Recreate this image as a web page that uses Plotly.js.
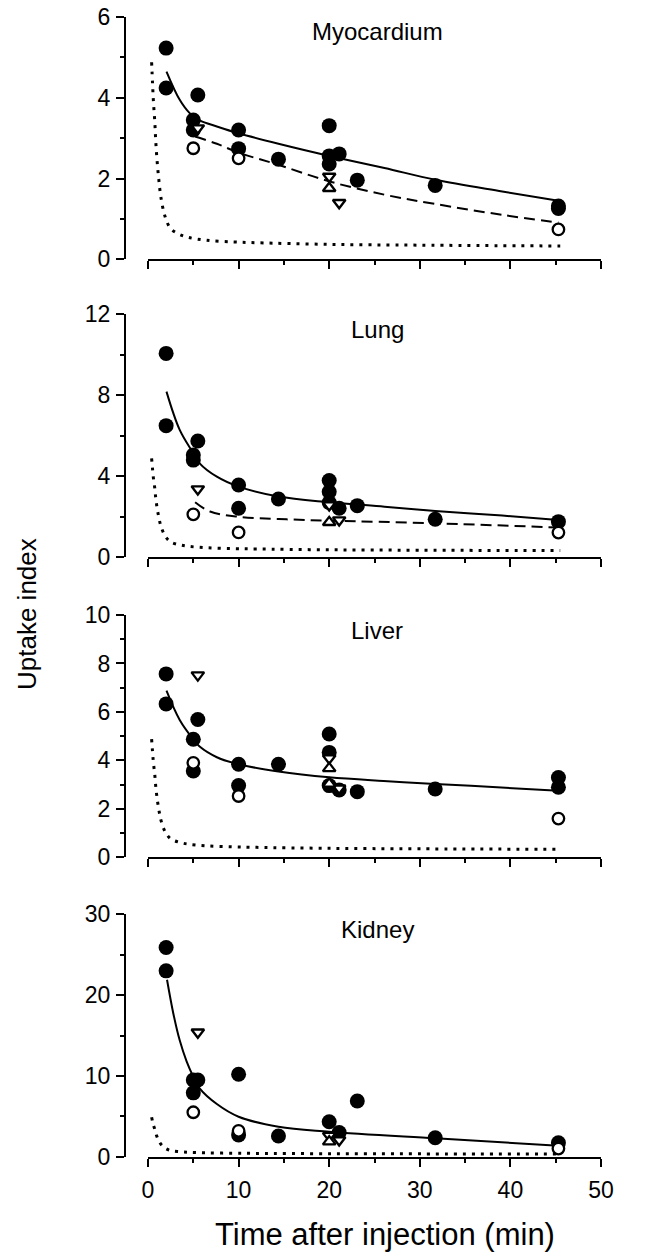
<!DOCTYPE html>
<html>
<head>
<meta charset="utf-8">
<script src="https://cdn.plot.ly/plotly-3.0.1.min.js"></script>
<style>html,body{margin:0;padding:0;background:#fff;}#chart{width:660px;height:1256px;}</style>
</head>
<body>
<div id="chart"></div>
<script>
// ---------- DATA ----------
const panelNames = ["Myocardium", "Lung", "Liver", "Kidney"];
const yMax = [6, 12, 10, 30];
const yMajor = [2, 4, 2, 10];
const yMinor = [1, 2, 1, 5];
const xTickLabels = ["0", "10", "20", "30", "40", "50"];

// blood curve (dotted), same in every panel
const bloodT = [0.4, 0.5, 0.6, 0.75, 0.85, 1.0, 1.2, 1.45, 1.9, 2.5, 3.45, 4.5, 6.5, 9.5, 12, 20, 30, 45.5];
const bloodV = [4.88, 4.36, 3.90, 3.40, 2.95, 2.45, 1.96, 1.50, 1.05, 0.76, 0.62, 0.54, 0.47, 0.43, 0.41, 0.37, 0.35, 0.33];

// Myocardium
const myoFilledT = [2, 2, 5, 5, 5.5, 10, 10, 14.4, 20, 20, 20, 21.1, 23.1, 31.7, 45.3, 45.3];
const myoFilledV = [5.23, 4.24, 3.45, 3.2, 4.07, 3.2, 2.74, 2.48, 3.31, 2.56, 2.36, 2.61, 1.96, 1.83, 1.32, 1.26];
const myoOpenT = [5, 10, 45.3];
const myoOpenV = [2.75, 2.5, 0.74];
const myoDownT = [5.5, 20, 21.1];
const myoDownV = [3.25, 2.05, 1.40];
const myoUpT = [20];
const myoUpV = [1.76];
const myoSolidT = [2.04, 3.5, 4.6, 5.7, 7.6, 10, 14.4, 20, 26.1, 31.7, 39.1, 45.3];
const myoSolidV = [4.65, 3.95, 3.62, 3.44, 3.29, 3.12, 2.86, 2.56, 2.26, 1.97, 1.68, 1.45];
const myoDashT = [5.2, 7.6, 10, 14.4, 20, 26.1, 31.7, 39.1, 45.3];
const myoDashV = [3.04, 2.86, 2.64, 2.34, 1.93, 1.60, 1.37, 1.10, 0.91];

// Lung
const lungFilledT = [2, 2, 5.5, 5, 5, 10, 10, 14.4, 20, 20, 20, 21.1, 23.1, 31.7, 45.3];
const lungFilledV = [10.07, 6.5, 5.74, 5.05, 4.8, 3.57, 2.42, 2.88, 3.79, 3.24, 2.7, 2.42, 2.55, 1.88, 1.76];
const lungOpenT = [5, 10, 45.3];
const lungOpenV = [2.12, 1.23, 1.22];
const lungDownT = [5.5, 20, 21.1];
const lungDownV = [3.37, 2.58, 1.84];
const lungUpT = [20];
const lungUpV = [1.73];
const lungSolidT = [2.04, 3.5, 5, 5.7, 7.6, 10, 14.4, 20, 26.1, 31.7, 39.1, 45.3];
const lungSolidV = [8.18, 6.29, 5.14, 4.64, 3.98, 3.49, 3.0, 2.72, 2.5, 2.29, 2.06, 1.84];
const lungDashT = [5.2, 6.85, 10, 14.4, 20, 31.7, 45.3];
const lungDashV = [2.72, 2.26, 2.0, 1.89, 1.81, 1.68, 1.47];

// Liver
const livFilledT = [2, 2, 5.5, 5, 5, 10, 10, 14.4, 20, 20, 20, 21.1, 23.1, 31.7, 45.3, 45.3];
const livFilledV = [7.57, 6.33, 5.69, 4.87, 3.56, 3.84, 2.96, 3.84, 5.09, 4.33, 2.96, 2.78, 2.71, 2.82, 3.29, 2.89];
const livOpenT = [5, 10, 45.3];
const livOpenV = [3.9, 2.53, 1.6];
const livDownT = [5.5, 20, 21.1];
const livDownV = [7.52, 4.09, 2.85];
const livUpT = [20, 20];
const livUpV = [3.67, 3.03];
const livSolidT = [2.04, 3.5, 5, 5.7, 7.6, 10, 14.4, 20, 26, 31.7, 39, 45.3];
const livSolidV = [6.88, 5.67, 4.87, 4.57, 4.13, 3.84, 3.54, 3.3, 3.15, 3.03, 2.88, 2.75];

// Kidney
const kidFilledT = [2, 2, 5, 5.5, 5, 10, 10, 14.4, 20, 21.1, 23.1, 31.7, 45.3];
const kidFilledV = [25.9, 23.0, 9.5, 9.5, 7.9, 10.2, 2.7, 2.56, 4.33, 3.0, 6.9, 2.35, 1.73];
const kidOpenT = [5, 10, 45.3];
const kidOpenV = [5.5, 3.2, 1.0];
const kidDownT = [5.5, 20, 21.1];
const kidDownV = [15.4, 2.6, 2.06];
const kidUpT = [20];
const kidUpV = [1.86];
const kidSolidT = [2.1, 2.8, 3.5, 4.26, 5, 5.7, 7.6, 10, 14.4, 20, 31.7, 45.3];
const kidSolidV = [21.9, 17.7, 14.4, 11.8, 9.9, 8.46, 6.52, 4.95, 3.71, 3.1, 2.27, 1.36];

// ---------- BUILD ----------
const panels = [
  {filled:[myoFilledT,myoFilledV], open:[myoOpenT,myoOpenV], down:[myoDownT,myoDownV], up:[myoUpT,myoUpV], solid:[myoSolidT,myoSolidV], dash:[myoDashT,myoDashV]},
  {filled:[lungFilledT,lungFilledV], open:[lungOpenT,lungOpenV], down:[lungDownT,lungDownV], up:[lungUpT,lungUpV], solid:[lungSolidT,lungSolidV], dash:[lungDashT,lungDashV]},
  {filled:[livFilledT,livFilledV], open:[livOpenT,livOpenV], down:[livDownT,livDownV], up:[livUpT,livUpV], solid:[livSolidT,livSolidV], dash:null},
  {filled:[kidFilledT,kidFilledV], open:[kidOpenT,kidOpenV], down:[kidDownT,kidDownV], up:[kidUpT,kidUpV], solid:[kidSolidT,kidSolidV], dash:null}
];

const W = 660, H = 1256;
const FONT = "Liberation Sans, Arial, Helvetica, sans-serif";
// pixel geometry of the plot areas (top px, bottom px)
const areas = [[17, 259.3], [314.3, 557.3], [615, 857.3], [914.3, 1156.7]];
const xLeftPx = 148, xRightPx = 601, yAxisPx = 125;

const traces = [];
const layout = {
  width: W, height: H,
  margin: {l: 0, r: 0, t: 0, b: 0},
  paper_bgcolor: "#fff", plot_bgcolor: "rgba(0,0,0,0)",
  showlegend: false,
  font: {family: FONT, color: "#000", size: 23},
  annotations: []
};

panels.forEach((p, i) => {
  const n = i === 0 ? "" : String(i + 1);
  const xa = "x" + n, ya = "y" + n;
  const common = {xaxis: xa, yaxis: ya, showlegend: false, hoverinfo: "skip", cliponaxis: false};
  traces.push(Object.assign({x: bloodT, y: bloodV, mode: "lines", line: {color: "#000", width: 3, dash: "3px,6px", shape: "spline"}}, common));
  traces.push(Object.assign({x: p.solid[0], y: p.solid[1], mode: "lines", line: {color: "#000", width: 2, shape: "spline", smoothing: 1}}, common));
  if (p.dash) traces.push(Object.assign({x: p.dash[0], y: p.dash[1], mode: "lines", line: {color: "#000", width: 2, dash: "11px,6px", shape: "spline", smoothing: 1}}, common));
  traces.push(Object.assign({x: p.filled[0], y: p.filled[1], mode: "markers", marker: {symbol: "circle", size: 15, color: "#000", line: {width: 0}}}, common));
  traces.push(Object.assign({x: p.open[0], y: p.open[1], mode: "markers", marker: {symbol: "circle", size: 11.5, color: "#fff", line: {width: 2.3, color: "#000"}}}, common));
  traces.push(Object.assign({x: p.down[0], y: p.down[1], mode: "markers", marker: {symbol: "triangle-down", size: 11, color: "#fff", line: {width: 2.3, color: "#000"}}}, common));
  traces.push(Object.assign({x: p.up[0], y: p.up[1], mode: "markers", marker: {symbol: "triangle-up", size: 11, color: "#fff", line: {width: 2.3, color: "#000"}}}, common));

  const [topPx, botPx] = areas[i];
  layout["xaxis" + n] = {
    domain: [xLeftPx / W, xRightPx / W], anchor: ya, range: [0, 50],
    showline: true, linewidth: 2, linecolor: "#000", mirror: false,
    ticks: "outside", ticklen: 8, tickwidth: 2, tickcolor: "#000",
    tickmode: "array", tickvals: [0, 10, 20, 30, 40, 50], ticktext: xTickLabels,
    minor: {tickmode: "array", tickvals: [5, 15, 25, 35, 45], ticks: "outside", ticklen: 4, tickwidth: 2, tickcolor: "#000", showgrid: false},
    showticklabels: i === 3, ticklabelstandoff: 4,
    tickfont: {family: FONT, size: 23, color: "#000"},
    showgrid: false, zeroline: false, fixedrange: true
  };
  layout["yaxis" + n] = {
    domain: [1 - botPx / H, 1 - topPx / H], anchor: "free", position: yAxisPx / W, range: [0, yMax[i]],
    showline: true, linewidth: 2, linecolor: "#000",
    ticks: "outside", ticklen: 8, tickwidth: 2, tickcolor: "#000",
    tick0: 0, dtick: yMajor[i],
    minor: {tick0: 0, dtick: yMinor[i], ticks: "outside", ticklen: 4, tickwidth: 2, tickcolor: "#000", showgrid: false},
    ticklabelstandoff: 1,
    tickfont: {family: FONT, size: 23, color: "#000"},
    showgrid: false, zeroline: false, fixedrange: true
  };
  layout.annotations.push({
    text: panelNames[i], xref: "paper", yref: "paper",
    x: 377 / W, y: 1 - (topPx + 15) / H, xanchor: "center", yanchor: "middle",
    showarrow: false, font: {family: FONT, size: 24, color: "#000"}
  });
});

layout.annotations.push({
  text: "Time after injection (min)", xref: "paper", yref: "paper",
  x: 385 / W, y: 1 - 1234 / H, xanchor: "center", yanchor: "middle",
  showarrow: false, font: {family: FONT, size: 31, color: "#000"}
});
layout.annotations.push({
  text: "Uptake index", xref: "paper", yref: "paper", textangle: -90,
  x: 27 / W, y: 1 - 614 / H, xanchor: "center", yanchor: "middle",
  showarrow: false, font: {family: FONT, size: 26, color: "#000"}
});

Plotly.newPlot("chart", traces, layout, {staticPlot: true, displayModeBar: false});
</script>
</body>
</html>
